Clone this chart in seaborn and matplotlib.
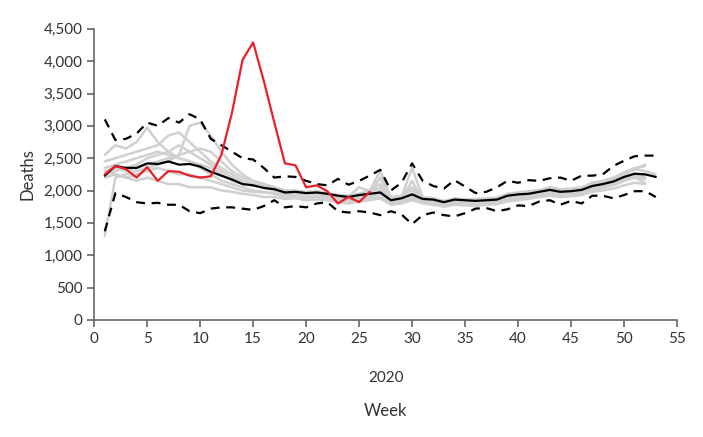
import numpy as np
import pandas as pd
import matplotlib
matplotlib.use("Agg")
import matplotlib.pyplot as plt
import seaborn as sns

# weekly deaths
weeks = list(range(1, 54))

deaths_2020 = [2250, 2380, 2330, 2200, 2360, 2150, 2300, 2290, 2230, 2200,
               2220, 2550, 3200, 4020, 4290, 3700, 3050, 2420, 2390, 2050,
               2080, 1990, 1800, 1900, 1820, 1980]

mean_deaths = [2230, 2380, 2350, 2350, 2420, 2410, 2450, 2400, 2410, 2370,
               2290, 2230, 2170, 2100, 2080, 2040, 2020, 1970, 1980, 1960,
               1970, 1950, 1920, 1900, 1930, 1950, 1970, 1850, 1880, 1940,
               1870, 1860, 1820, 1860, 1850, 1840, 1850, 1860, 1920, 1940,
               1950, 1980, 2010, 1980, 1990, 2010, 2070, 2100, 2140, 2210,
               2260, 2250, 2210]

upper_band = [3100, 2780, 2800, 2880, 3050, 3000, 3120, 3050, 3180, 3100,
              2800, 2700, 2600, 2500, 2480, 2350, 2200, 2220, 2210, 2150,
              2100, 2080, 2180, 2090, 2150, 2230, 2320, 2000, 2120, 2420,
              2150, 2070, 2030, 2160, 2060, 1960, 1980, 2050, 2150, 2120,
              2160, 2150, 2190, 2200, 2150, 2230, 2230, 2250, 2380, 2460,
              2530, 2540, 2540]

lower_band = [1370, 1960, 1900, 1820, 1800, 1810, 1780, 1780, 1680, 1650,
              1720, 1740, 1740, 1720, 1700, 1760, 1850, 1740, 1760, 1740,
              1800, 1820, 1680, 1660, 1680, 1660, 1620, 1680, 1630, 1480,
              1620, 1660, 1620, 1600, 1650, 1720, 1730, 1680, 1710, 1770,
              1760, 1830, 1850, 1780, 1840, 1800, 1920, 1920, 1880, 1930,
              1990, 1990, 1900]

# previous years (grey lines)
y2012 = [1300, 2200, 2250, 2300, 2350, 2400, 2450, 2550, 3000, 3050,
         2850, 2600, 2400, 2250, 2150, 2100, 2050, 2000, 1980, 1950,
         1960, 1900, 1880, 1870, 1900, 1920, 2000, 1850, 1880, 1950,
         1870, 1850, 1800, 1830, 1820, 1800, 1810, 1830, 1880, 1900,
         1920, 1950, 1990, 1960, 1970, 2000, 2050, 2080, 2120, 2180,
         2230, 2200]
y2013 = [2550, 2700, 2650, 2750, 2970, 2750, 2600, 2500, 2450, 2350,
         2250, 2150, 2100, 2050, 2000, 1980, 1950, 1900, 1920, 1880,
         1900, 1870, 1850, 1830, 1860, 1880, 1900, 1800, 1830, 1880,
         1820, 1800, 1780, 1800, 1790, 1780, 1790, 1800, 1860, 1870,
         1900, 1920, 1950, 1930, 1940, 1960, 2000, 2040, 2080, 2150,
         2200, 2180]
y2014 = [2450, 2500, 2550, 2600, 2650, 2700, 2850, 2900, 2750, 2600,
         2450, 2350, 2250, 2150, 2100, 2050, 2020, 1980, 1970, 1960,
         1950, 1940, 1910, 1900, 1920, 1950, 2200, 1870, 1900, 2350,
         1900, 1880, 1830, 1880, 1860, 1850, 1860, 1870, 1940, 1950,
         1960, 2000, 2030, 2000, 2010, 2040, 2100, 2130, 2170, 2250,
         2330, 2300, 2250]
y2015 = [2200, 2250, 2200, 2150, 2200, 2150, 2100, 2100, 2050, 2050,
         2050, 2000, 1980, 1950, 1930, 1900, 1900, 1870, 1880, 1850,
         1860, 1850, 1820, 1800, 1830, 1850, 1880, 1780, 1800, 1850,
         1800, 1780, 1750, 1780, 1770, 1760, 1780, 1790, 1830, 1850,
         1870, 1900, 1920, 1900, 1910, 1930, 1980, 2000, 2030, 2080,
         2120, 2100]
y2016 = [2300, 2350, 2300, 2350, 2400, 2450, 2500, 2550, 2600, 2650,
         2600, 2450, 2300, 2200, 2150, 2100, 2050, 2000, 2000, 1980,
         1990, 1960, 1930, 1920, 1950, 2000, 2300, 1900, 1920, 2000,
         1890, 1880, 1840, 1870, 1860, 1870, 1880, 1890, 1950, 1970,
         1990, 2010, 2050, 2020, 2030, 2050, 2120, 2150, 2200, 2280,
         2350, 2380]
y2017 = [2350, 2400, 2450, 2500, 2550, 2600, 2550, 2500, 2450, 2400,
         2350, 2250, 2150, 2100, 2080, 2050, 2000, 1960, 1950, 1940,
         1950, 1920, 1900, 1890, 1920, 1960, 2050, 1830, 1860, 2150,
         1850, 1840, 1810, 1850, 1830, 1820, 1830, 1840, 1900, 1920,
         1930, 1960, 2000, 1970, 1980, 2000, 2060, 2090, 2130, 2200,
         2260, 2230]
y2018 = [2250, 2300, 2350, 2400, 2500, 2550, 2600, 2700, 2600, 2500,
         2400, 2300, 2200, 2150, 2100, 2070, 2050, 1990, 1990, 1970,
         1980, 1950, 1920, 1910, 2050, 1990, 2100, 1860, 1890, 2050,
         1880, 1870, 1830, 1860, 1850, 1850, 1860, 1870, 1930, 1950,
         1970, 2000, 2040, 2010, 2020, 2040, 2100, 2140, 2190, 2260,
         2320, 2400]
y2019 = [2300, 2250, 2200, 2250, 2300, 2350, 2300, 2250, 2250, 2200,
         2150, 2100, 2050, 2000, 1980, 1970, 1960, 1930, 1920, 1900,
         1910, 1890, 1870, 1860, 1880, 1900, 1950, 1820, 1850, 1900,
         1840, 1830, 1790, 1820, 1810, 1800, 1820, 1830, 1880, 1900,
         1920, 1940, 1980, 1950, 1960, 1980, 2030, 2060, 2100, 2150,
         2200, 2120]

past_years = {2012: y2012, 2013: y2013, 2014: y2014, 2015: y2015,
              2016: y2016, 2017: y2017, 2018: y2018, 2019: y2019}

rows = []
for yr, vals in past_years.items():
    for w, v in zip(weeks, vals):
        rows.append({"year": yr, "week": w, "deaths": v})
grey_df = pd.DataFrame(rows)

sns.set_style("ticks")
plt.rcParams["font.family"] = ["Lato", "DejaVu Sans"]

fig = plt.figure(figsize=(7.03, 4.37), dpi=100)
ax = fig.add_axes([0.134, 0.268, 0.829, 0.666])

sns.lineplot(data=grey_df, x="week", y="deaths", units="year", estimator=None,
             color="#d0d0d0", lw=1.8, ax=ax, legend=False)
sns.lineplot(x=weeks, y=upper_band, color="black", lw=1.6, ax=ax,
             linestyle=(0, (4, 3)))
sns.lineplot(x=weeks, y=lower_band, color="black", lw=1.6, ax=ax,
             linestyle=(0, (4, 3)))
sns.lineplot(x=weeks, y=mean_deaths, color="black", lw=1.6, ax=ax)
sns.lineplot(x=weeks[:len(deaths_2020)], y=deaths_2020, color="#e8202a",
             lw=1.6, ax=ax)

ax.set_xlim(0, 55)
ax.set_ylim(0, 4500)
ax.set_xticks(range(0, 56, 5))
ax.set_yticks(range(0, 4501, 500))
ax.set_yticklabels([f"{v:,}" for v in range(0, 4501, 500)])
sns.despine(ax=ax)
for s in ["left", "bottom"]:
    ax.spines[s].set_color("#666666")
    ax.spines[s].set_linewidth(1.2)
ax.tick_params(colors="#666666", labelcolor="#333333", labelsize=11,
               length=5, width=1.2)

ax.set_ylabel("Deaths", fontsize=12, color="#333333", labelpad=6)
ax.set_xlabel("Week", fontsize=12, color="#333333", labelpad=41)
ax.text(27.5, -0.2, "2020", transform=ax.get_xaxis_transform(),
        ha="center", va="center", fontsize=11, color="#333333")

fig.savefig("out.png", dpi=100)
